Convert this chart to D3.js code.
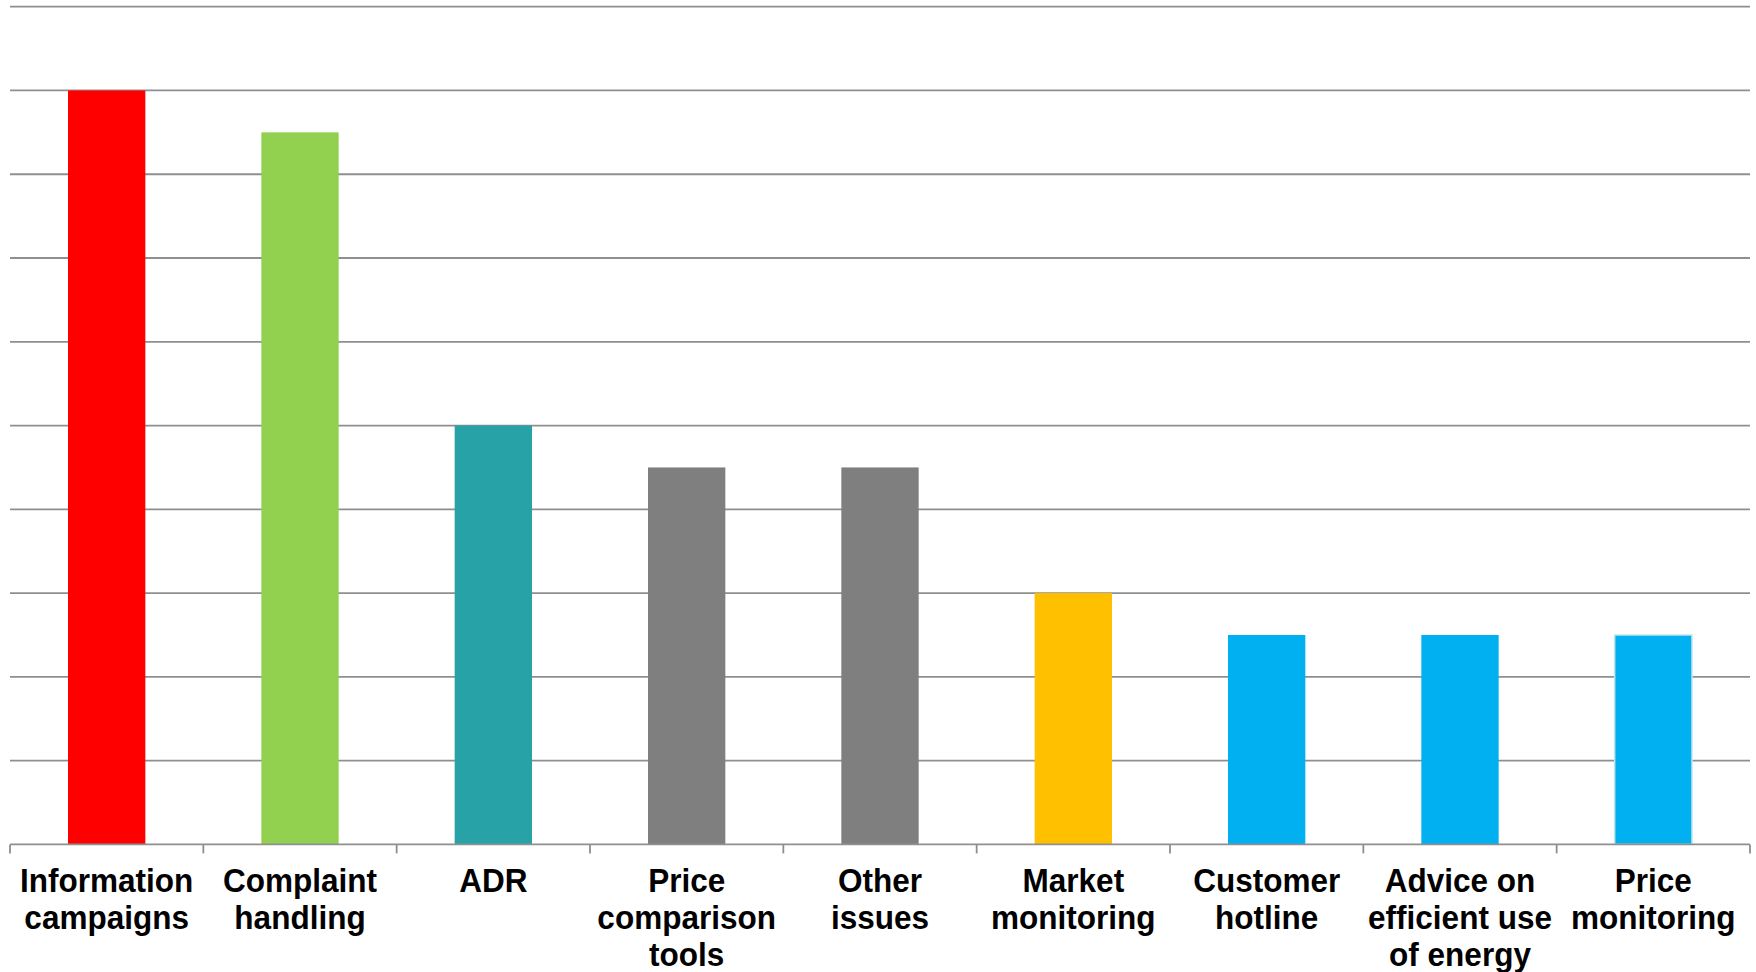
<!DOCTYPE html>
<html>
<head>
<meta charset="utf-8">
<script src="https://cdn.jsdelivr.net/npm/d3@7"></script>
<style>
  html, body { margin: 0; padding: 0; background: #ffffff; }
  svg { display: block; }
  .label { font-family: "Liberation Sans", Arial, sans-serif; font-weight: bold; font-size: 32.5px; fill: #000; }
</style>
</head>
<body>
<script>
// Categories (multi-line labels) and their values
const categories = [
  ["Information", "campaigns"],
  ["Complaint", "handling"],
  ["ADR"],
  ["Price", "comparison", "tools"],
  ["Other", "issues"],
  ["Market", "monitoring"],
  ["Customer", "hotline"],
  ["Advice on", "efficient use", "of energy"],
  ["Price", "monitoring"]
];
const values = [9, 8.5, 5, 4.5, 4.5, 3, 2.5, 2.5, 2.5];
const barColors = ["#FF0000", "#92D050", "#27A3A8", "#7F7F7F", "#7F7F7F", "#FFC000", "#00B0F0", "#00B0F0", "#00B0F0"];
const gridTicks = [0, 1, 2, 3, 4, 5, 6, 7, 8, 9, 10];

const W = 1756, H = 972;
const plotLeft = 10, plotRight = 1750, plotTop = 6.7, plotBottom = 844.4;

const svg = d3.select("body").append("svg").attr("width", W).attr("height", H);

const keys = categories.map((c, i) => i);
const x = d3.scaleBand().domain(keys).range([plotLeft, plotRight]).padding(0);
const y = d3.scaleLinear().domain([0, 10]).range([plotBottom, plotTop]);

// Horizontal gridlines
svg.append("g").selectAll("line").data(gridTicks.filter(t => t > 0)).join("line")
  .attr("x1", plotLeft).attr("x2", plotRight)
  .attr("y1", d => y(d)).attr("y2", d => y(d))
  .attr("stroke", "#8f8f8f").attr("stroke-width", 1.8);

// Bars, 40% of each category slot, centred
const barW = x.bandwidth() * 0.4;
svg.append("g").selectAll("rect").data(values).join("rect")
  .attr("x", (d, i) => x(i) + (x.bandwidth() - barW) / 2)
  .attr("y", d => y(d))
  .attr("width", barW)
  .attr("height", d => y(0) - y(d))
  .attr("fill", (d, i) => barColors[i])
  .attr("stroke", (d, i) => i === values.length - 1 ? "#c4e7ee" : "none")
  .attr("stroke-width", 1.5);

// Category axis: baseline with tick marks at slot boundaries
const axis = svg.append("g");
axis.append("line")
  .attr("x1", plotLeft).attr("x2", plotRight)
  .attr("y1", y(0)).attr("y2", y(0))
  .attr("stroke", "#8f8f8f").attr("stroke-width", 1.8);
const bounds = keys.map(k => x(k)).concat([plotRight]);
axis.selectAll("line.tick").data(bounds).join("line")
  .attr("class", "tick")
  .attr("x1", d => d).attr("x2", d => d)
  .attr("y1", y(0)).attr("y2", y(0) + 9)
  .attr("stroke", "#8f8f8f").attr("stroke-width", 1.8);

// Category labels (slightly narrowed bold sans)
const lineH = 36.7;
svg.append("g").selectAll("text").data(categories).join("text")
  .attr("class", "label")
  .attr("text-anchor", "middle")
  .attr("transform", (d, i) => `translate(${x(i) + x.bandwidth() / 2},${y(0) + 48}) scale(0.97,1)`)
  .each(function(lines) {
    d3.select(this).selectAll("tspan").data(lines).join("tspan")
      .attr("x", 0)
      .attr("y", (l, j) => j * lineH)
      .text(l => l);
  });
</script>
</body>
</html>
